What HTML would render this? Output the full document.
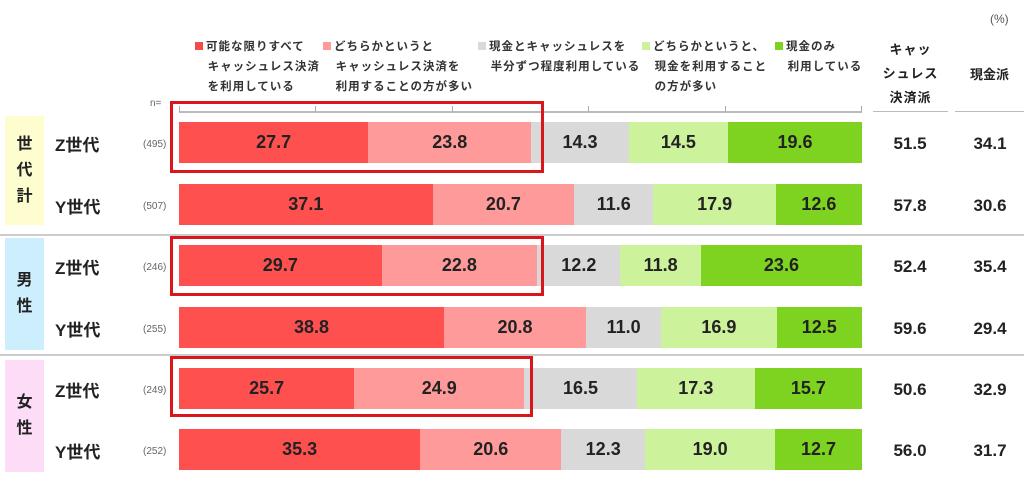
<!DOCTYPE html>
<html><head><meta charset="utf-8"><style>
body{margin:0;width:1024px;height:489px;background:#fff;position:relative;overflow:hidden;font-family:"Liberation Sans","Noto Sans CJK JP",sans-serif;color:#222}
.a{position:absolute}
.leg{font-size:11.5px;font-weight:bold;line-height:20px;letter-spacing:1px;color:#333}
.sq{display:inline-block;width:8px;height:8px;margin-right:3px}
.bar{position:absolute;height:41px;display:flex}
.bar div{height:100%;display:flex;align-items:center;justify-content:center;font-size:18px;font-weight:bold;color:#222}
.lab{font-size:17px;font-weight:bold}
.n{font-size:10px;color:#666}
.v{font-size:17px;font-weight:bold;width:80px;text-align:center}
.grp{width:39px;font-size:16px;font-weight:bold;display:flex;align-items:center;justify-content:center;text-align:center;line-height:26px}
.box{position:absolute;border:3px solid #d9161c;box-sizing:border-box}
</style></head><body>
<div class="a" style="left:990px;top:12px;font-size:12px;color:#555">(%)</div>
<div class="a leg" style="left:195px;top:37px"><span class="sq" style="background:#f14b4b"></span>可能な限りすべて<br>&nbsp;&nbsp;&nbsp;キャッシュレス決済<br>&nbsp;&nbsp;&nbsp;を利用している</div>
<div class="a leg" style="left:323px;top:37px"><span class="sq" style="background:#ff9a9a"></span>どちらかというと<br>&nbsp;&nbsp;&nbsp;キャッシュレス決済を<br>&nbsp;&nbsp;&nbsp;利用することの方が多い</div>
<div class="a leg" style="left:478px;top:37px"><span class="sq" style="background:#d9d9d9"></span>現金とキャッシュレスを<br>&nbsp;&nbsp;&nbsp;半分ずつ程度利用している</div>
<div class="a leg" style="left:642px;top:37px"><span class="sq" style="background:#ccf29c"></span>どちらかというと、<br>&nbsp;&nbsp;&nbsp;現金を利用すること<br>&nbsp;&nbsp;&nbsp;の方が多い</div>
<div class="a leg" style="left:775px;top:37px"><span class="sq" style="background:#7ed321"></span>現金のみ<br>&nbsp;&nbsp;&nbsp;利用している</div>
<div class="a" style="left:873px;top:38px;width:75px;text-align:center;font-size:13px;font-weight:bold;line-height:24px;letter-spacing:1px">キャッ<br>シュレス<br>決済派</div>
<div class="a" style="left:955px;top:64px;width:69px;text-align:center;font-size:13px;font-weight:bold">現金派</div>
<div class="a" style="left:873px;top:111px;width:75px;height:1px;background:#bbb"></div>
<div class="a" style="left:955px;top:111px;width:69px;height:1px;background:#bbb"></div>
<div class="a n" style="left:150px;top:98px">n=</div>
<div class="a" style="left:179px;top:111px;width:683px;height:2px;background:#bbb"></div>
<div class="a" style="left:179px;top:106px;width:1px;height:6px;background:#aaa"></div>
<div class="a" style="left:315px;top:106px;width:1px;height:6px;background:#aaa"></div>
<div class="a" style="left:452px;top:106px;width:1px;height:6px;background:#aaa"></div>
<div class="a" style="left:588px;top:106px;width:1px;height:6px;background:#aaa"></div>
<div class="a" style="left:725px;top:106px;width:1px;height:6px;background:#aaa"></div>
<div class="a" style="left:861px;top:106px;width:1px;height:6px;background:#aaa"></div>
<div class="a" style="left:0;top:234px;width:1024px;height:2px;background:#ccc"></div>
<div class="a" style="left:0;top:354px;width:1024px;height:2px;background:#ccc"></div>
<div class="a grp" style="left:5px;top:116px;height:109px;background:#fdfdd0">世<br>代<br>計</div>
<div class="a grp" style="left:5px;top:238px;height:112px;background:#cdeefc">男<br>性</div>
<div class="a grp" style="left:5px;top:360px;height:112px;background:#fcdcf7">女<br>性</div>

<div id="rows"></div>
<script>
var d=[[143,"Z世代",495,[27.7,23.8,14.3,14.5,19.6],51.5,34.1],[205,"Y世代",507,[37.1,20.7,11.6,17.9,12.6],57.8,30.6],[266,"Z世代",246,[29.7,22.8,12.2,11.8,23.6],52.4,35.4],[328,"Y世代",255,[38.8,20.8,11.0,16.9,12.5],59.6,29.4],[389,"Z世代",249,[25.7,24.9,16.5,17.3,15.7],50.6,32.9],[450,"Y世代",252,[35.3,20.6,12.3,19.0,12.7],56.0,31.7]];
var c=["#ff5050","#ff9a9a","#d9d9d9","#ccf29c","#7ed321"];var h="";
d.forEach(function(r){var y=r[0];
h+='<div class="a lab" style="left:55px;top:'+(y-12)+'px">'+r[1]+'</div>';
h+='<div class="a n" style="left:143px;top:'+(y-4)+'px">('+r[2]+')</div>';
var s=0;r[3].forEach(function(v){s+=v});
h+='<div class="bar" style="left:179px;top:'+(y-21)+'px;width:683px">';
r[3].forEach(function(v,i){h+='<div style="width:'+(v/s*683)+'px;background:'+c[i]+'">'+v.toFixed(1)+'</div>'});
h+='</div>';
h+='<div class="a v" style="left:870px;top:'+(y-9)+'px">'+r[4].toFixed(1)+'</div>';
h+='<div class="a v" style="left:950px;top:'+(y-9)+'px">'+r[5].toFixed(1)+'</div>';
});
document.getElementById("rows").innerHTML=h;
</script>
<div class="box" style="left:170px;top:101px;width:374px;height:72px"></div>
<div class="box" style="left:170px;top:236px;width:374px;height:60px"></div>
<div class="box" style="left:170px;top:356px;width:363px;height:61px"></div>
</body></html>
